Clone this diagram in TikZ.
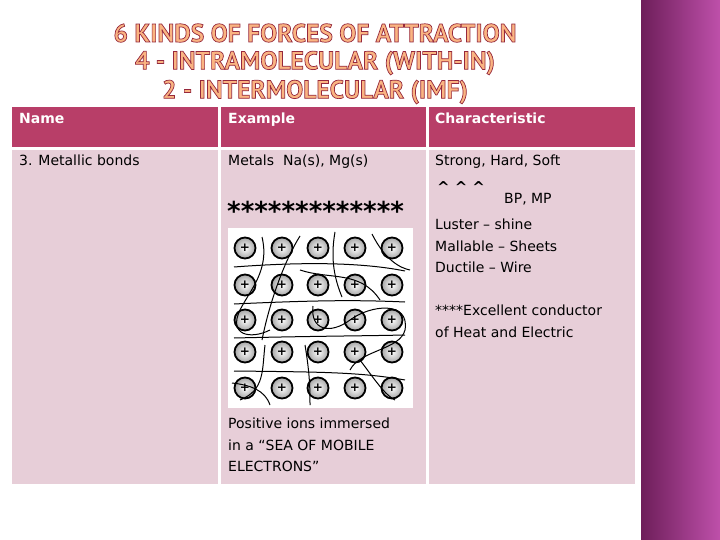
\documentclass[tikz,border=0pt]{standalone}
\usepackage{fontspec}
\setmainfont{DejaVu Sans}
\newfontfamily\ttlfont{PT Sans}
\definecolor{hdr}{RGB}{184,62,104}
\definecolor{body}{RGB}{231,206,216}
\definecolor{ttl}{RGB}{250,180,130}
\definecolor{ttlo}{RGB}{150,40,60}
\definecolor{barl}{RGB}{110,30,90}
\definecolor{barr}{RGB}{190,80,170}
\newcommand{\outl}[1]{\pgfsetstrokecolor{ttlo}\special{pdf:literal 2 Tr 0.7 w}#1\special{pdf:literal 0 Tr}}
\tikzset{
 cell/.style={anchor=north west,align=left,inner sep=0pt,font=\fontsize{14pt}{21.5pt}\selectfont},
 hcell/.style={cell,text=white,font=\fontsize{14pt}{19pt}\selectfont\bfseries},
 ttlline/.style={text=ttl,font=\ttlfont\fontsize{25.5pt}{28pt}\selectfont\bfseries},
 ion/.style={circle,draw=black,line width=1.8pt,inner color=white,outer color=gray!70,minimum size=21pt,inner sep=0pt,font=\bfseries\fontsize{12pt}{12pt}\selectfont},
 epath/.style={line width=1pt}
}
\begin{document}
\begin{tikzpicture}[x=1pt,y=-1pt]
\useasboundingbox (0,0) rectangle (720,540);
\fill[white] (0,0) rectangle (720,540);
\shade[left color=barl,right color=barr] (641,0) rectangle (720,540);
% title
\node[ttlline] (t1) at (315,33) {\outl{6 KINDS OF FORCES OF ATTRACTION}};
\node[ttlline] (t2) at (315,63) {\outl{4 - INTRAMOLECULAR (WITH-IN)}};
\node[ttlline] (t3) at (315,92) {\outl{2 - INTERMOLECULAR (IMF)}};
% table cells
\fill[hdr] (12,107) rectangle (218,147);
\fill[hdr] (221,107) rectangle (426,147);
\fill[hdr] (429,107) rectangle (635,147);
\fill[body] (12,150) rectangle (218,484);
\fill[body] (221,150) rectangle (426,484);
\fill[body] (429,150) rectangle (635,484);
\node[hcell] (h1) at (19,113) {Name};
\node[hcell] (h2) at (228,113) {Example};
\node[hcell] (h3) at (435,113) {Characteristic};
\node[cell] (c1) at (19,155) {3. Metallic bonds};
\node[cell] (c2) at (228,155) {Metals\ \ Na(s), Mg(s)};
\node[cell,font=\fontsize{26pt}{26pt}\selectfont\bfseries] (stars) at (227,201) {*************};
\node[cell,font=\fontsize{15pt}{15pt}\selectfont\bfseries] (hats) at (437,181) {\^{}\,\,\^{}\,\,\^{}};
\node[cell] (c3) at (435,155) {Strong, Hard, Soft};
\node[cell] (bp) at (504,193) {BP, MP};
\node[cell] (c4) at (435,219) {Luster -- shine\\Mallable -- Sheets\\Ductile -- Wire};
\node[cell] (c5) at (435,305) {****Excellent conductor\\of Heat and Electric};
\node[cell] (c6) at (228,418) {Positive ions immersed\\in a “SEA OF MOBILE\\ELECTRONS”};
% ion image
\fill[white] (228,228) rectangle (413,408);
\foreach \x [count=\i] in {245,282,318,355,392}
 \foreach \y [count=\j] in {248,285,320,352,388}
  \node[ion] (i\i\j) at (\x,\y) {+};
\draw[epath] (234,267) .. controls (300,262) and (360,262) .. (405,271);
\draw[epath] (234,304) .. controls (320,300) and (360,300) .. (405,302);
\draw[epath] (234,338) .. controls (320,336) and (360,336) .. (405,335);
\draw[epath] (234,371) .. controls (320,372) and (360,372) .. (405,380);
\draw[epath] (262,237) .. controls (270,270) and (250,290) .. (240,310) .. controls (228,335) and (250,340) .. (270,330);
\draw[epath] (300,236) .. controls (285,260) and (270,300) .. (262,340);
\draw[epath] (335,232) .. controls (330,260) and (335,280) .. (342,297);
\draw[epath] (372,234) .. controls (385,260) and (400,268) .. (410,270);
\draw[epath] (300,270) .. controls (330,280) and (360,270) .. (380,300);
\draw[epath] (313,306) .. controls (310,330) and (330,335) .. (350,320) .. controls (370,305) and (410,300) .. (405,330) .. controls (400,350) and (360,350) .. (350,370);
\draw[epath] (265,345) .. controls (262,370) and (265,390) .. (240,400);
\draw[epath] (305,345) .. controls (310,375) and (310,390) .. (310,405);
\draw[epath] (360,360) .. controls (375,380) and (385,395) .. (395,400);
\draw[epath] (232,383) .. controls (250,385) and (265,390) .. (270,405);
\end{tikzpicture}
\end{document}
